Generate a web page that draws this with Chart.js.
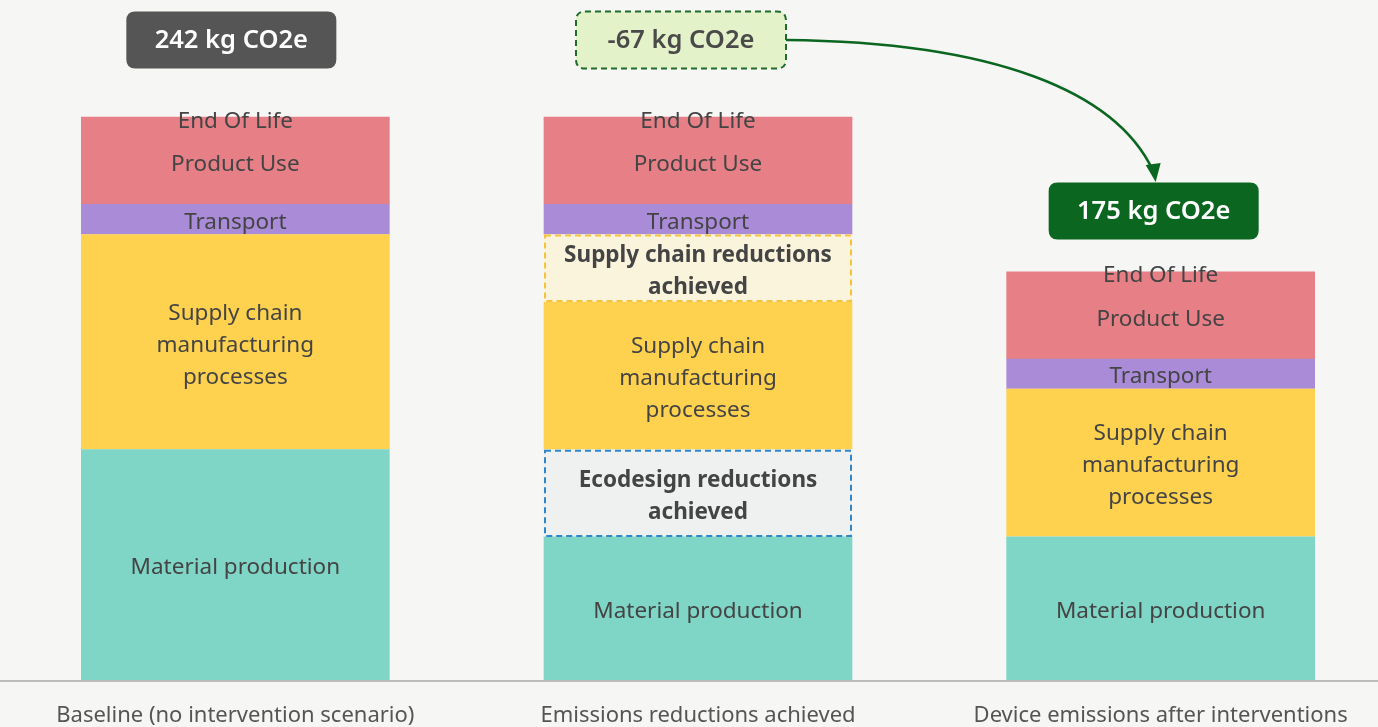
<!DOCTYPE html>
<html>
<head>
<meta charset="utf-8">
<title>Device emissions</title>
<script src="https://cdn.jsdelivr.net/npm/chart.js@4/dist/chart.umd.min.js"></script>
<style>
	html, body { margin: 0; padding: 0; overflow: hidden; background: #f6f6f5; }
	#wrap { position: absolute; left: 0; top: 0; width: 1392px; height: 727px; }
</style>
</head>
<body>
<div id="wrap"><canvas id="chart" width="1392" height="727"></canvas></div>
<script>
// categories along the x axis
const categories = [
	'Baseline (no intervention scenario)',
	'Emissions reductions achieved',
	'Device emissions after interventions'
];

// stacked segments, kg CO2e, bottom to top
const materialProduction = [99, 61.5, 61.5];
const ecodesignReductions = [0, 37.5, 0];
const supplyChain = [92.5, 63.5, 63.5];
const supplyChainReductions = [0, 29, 0];
const transport = [13, 13, 13];
const productUse = [36.5, 36.5, 36.5];
const endOfLife = [1, 1, 1];

// callout texts
const totalLabels = ['242 kg CO2e', '-67 kg CO2e', '175 kg CO2e'];

const FONT = '"Noto Sans", "Open Sans", sans-serif';
const TEXT_COLOR = '#444';

const datasets = [
	{ label: 'Material production', text: ['Material production'], data: materialProduction, backgroundColor: '#7fd5c6' },
	{ label: 'Ecodesign reductions achieved', text: ['Ecodesign reductions', 'achieved'], bold: true, dash: '#2f86c9', data: ecodesignReductions, backgroundColor: '#eef1f0' },
	{ label: 'Supply chain', text: ['Supply chain', 'manufacturing', 'processes'], data: supplyChain, backgroundColor: '#fed24f' },
	{ label: 'Supply chain reductions achieved', text: ['Supply chain reductions', 'achieved'], bold: true, dash: '#f8c33c', data: supplyChainReductions, backgroundColor: '#fbf4dc' },
	{ label: 'Transport', text: ['Transport'], data: transport, backgroundColor: '#a98bd8' },
	{ label: 'Product Use', text: ['Product Use'], data: productUse, backgroundColor: '#e67f86' },
	{ label: 'End Of Life', text: ['End Of Life'], data: endOfLife, backgroundColor: '#e67f86' },
];

function roundRect(ctx, x, y, w, h, r) {
	ctx.beginPath();
	ctx.moveTo(x + r, y);
	ctx.lineTo(x + w - r, y);
	ctx.quadraticCurveTo(x + w, y, x + w, y + r);
	ctx.lineTo(x + w, y + h - r);
	ctx.quadraticCurveTo(x + w, y + h, x + w - r, y + h);
	ctx.lineTo(x + r, y + h);
	ctx.quadraticCurveTo(x, y + h, x, y + h - r);
	ctx.lineTo(x, y + r);
	ctx.quadraticCurveTo(x, y, x + r, y);
	ctx.closePath();
}

// dashed outlines, segment texts, baseline, callouts and arrow
const decorations = {
	id: 'decorations',
	afterDatasetsDraw(chart) {
		const ctx = chart.ctx;
		const area = chart.chartArea;

		// axis line across the whole page
		ctx.save();
		ctx.strokeStyle = '#bdbdbd';
		ctx.lineWidth = 2;
		ctx.beginPath();
		ctx.moveTo(0, area.bottom + 1);
		ctx.lineTo(chart.width, area.bottom + 1);
		ctx.stroke();
		ctx.restore();

		chart.data.datasets.forEach((ds, di) => {
			const meta = chart.getDatasetMeta(di);
			meta.data.forEach((bar, i) => {
				if (!ds.data[i]) return;
				const p = bar.getProps(['x', 'y', 'base', 'width'], true);
				const left = p.x - p.width / 2;
				const top = Math.min(p.y, p.base);
				const h = Math.abs(p.base - p.y);

				if (ds.dash) {
					ctx.save();
					ctx.strokeStyle = ds.dash;
					ctx.lineWidth = 2;
					ctx.setLineDash([6, 4]);
					ctx.strokeRect(left + 1, top + 1, p.width - 2, h - 2);
					ctx.restore();
				}

				ctx.save();
				ctx.fillStyle = TEXT_COLOR;
				ctx.font = (ds.bold ? 'bold ' : '') + '22.5px ' + FONT;
				ctx.textAlign = 'center';
				ctx.textBaseline = 'middle';
				const lh = 32;
				const cy = top + h / 2 + 3 - (ds.text.length - 1) * lh / 2;
				ds.text.forEach((line, k) => ctx.fillText(line, p.x, cy + k * lh));
				ctx.restore();
			});
		});

		// callout boxes above the bars
		const xs = chart.getDatasetMeta(0).data.map(b => b.x);
		const boxes = [
			{ cx: xs[0] - 4, cy: 40, fill: '#555555', color: '#ffffff' },
			{ cx: xs[1] - 17, cy: 40, fill: '#e3f2c8', color: '#4a4a4a', dash: '#1f6b2a' },
			{ cx: xs[2] - 7, cy: 211, fill: '#0b6620', color: '#ffffff' },
		];
		boxes.forEach((b, i) => {
			const w = 210, h = 57;
			ctx.save();
			roundRect(ctx, b.cx - w / 2, b.cy - h / 2, w, h, 9);
			ctx.fillStyle = b.fill;
			ctx.fill();
			if (b.dash) {
				ctx.strokeStyle = b.dash;
				ctx.lineWidth = 2;
				ctx.setLineDash([6, 4]);
				ctx.stroke();
			}
			ctx.fillStyle = b.color;
			ctx.font = '600 25.5px ' + FONT;
			ctx.textAlign = 'center';
			ctx.textBaseline = 'middle';
			ctx.fillText(totalLabels[i], b.cx, b.cy + 1);
			ctx.restore();
		});

		// curved arrow from the reduction box to the final total
		const sx = boxes[1].cx + 105, sy = boxes[1].cy;
		const ex = boxes[2].cx + 2, ey = boxes[2].cy - 29;
		ctx.save();
		ctx.strokeStyle = '#0b6620';
		ctx.fillStyle = '#0b6620';
		ctx.lineWidth = 2.5;
		ctx.beginPath();
		ctx.moveTo(sx, sy);
		ctx.bezierCurveTo(sx + 210, sy + 2, ex - 40, ey - 90, ex - 3, ey - 12);
		ctx.stroke();
		ctx.beginPath();
		ctx.moveTo(ex, ey);
		ctx.lineTo(ex - 10, ey - 17);
		ctx.lineTo(ex + 5, ey - 19);
		ctx.closePath();
		ctx.fill();
		ctx.restore();
	}
};

new Chart(document.getElementById('chart'), {
	type: 'bar',
	data: {
		labels: categories,
		datasets: datasets.map(d => Object.assign({ borderWidth: 0, barThickness: 308 }, d)),
	},
	options: {
		responsive: false,
		animation: false,
		layout: { padding: { left: 4, right: 0, top: 0, bottom: 0 } },
		plugins: {
			legend: { display: false },
			tooltip: { enabled: false },
		},
		scales: {
			x: {
				stacked: true,
				grid: { display: false, drawTicks: false },
				border: { display: false },
				ticks: {
					color: '#555',
					font: { family: FONT, size: 22 },
					padding: 23,
					maxRotation: 0,
				},
				afterFit(scale) { scale.height = 47; },
			},
			y: {
				stacked: true,
				display: false,
				min: 0,
				max: 292.3,
			},
		},
	},
	plugins: [decorations],
});
</script>
</body>
</html>
